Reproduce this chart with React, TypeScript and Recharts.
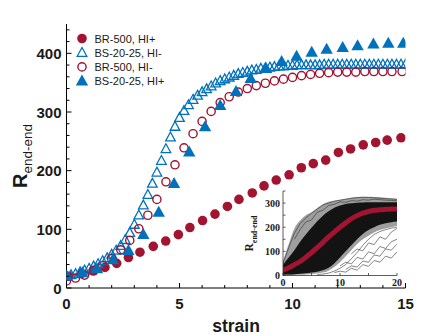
import React from 'react';
import { ScatterChart, Scatter, XAxis, YAxis, ComposedChart, Area, Line, Legend, Label } from 'recharts';

const RED = '#A2142F';
const BLUE = '#0072BD';

// ---- main chart data ----
const brHiPlusX = [0.1, 0.67, 1.19, 1.7, 2.22, 2.74, 3.25, 3.84, 4.39, 4.95, 5.46, 6.02, 6.57, 7.12, 7.63, 8.22, 8.74, 9.28, 9.85, 10.39, 10.92, 11.47, 12.03, 12.57, 13.13, 13.68, 14.19, 14.8];
const brHiPlusY = [20, 25, 29, 35, 42, 52, 61, 71, 80, 91, 103, 115, 126, 139, 151, 162, 174, 184, 193, 205, 212, 218, 231, 237, 244, 248, 252, 256];

const bsHiMinusX = [0, 0.2, 0.4, 0.6, 0.8, 1.0, 1.2, 1.4, 1.6, 1.8, 2.0, 2.2, 2.4, 2.6, 2.8, 3.0, 3.2, 3.4, 3.6, 3.8, 4.0, 4.2, 4.4, 4.6, 4.8, 5.0, 5.2, 5.4, 5.6, 5.8, 6.0, 6.2, 6.4, 6.6, 6.8, 7.0, 7.2, 7.4, 7.6, 7.8, 8.0, 8.2, 8.4, 8.6, 8.8, 9.0, 9.2, 9.4, 9.6, 9.8, 10.0, 10.2, 10.4, 10.6, 10.8, 11.0, 11.2, 11.4, 11.6, 11.8, 12.0, 12.2, 12.4, 12.6, 12.8, 13.0, 13.2, 13.4, 13.6, 13.8, 14.0, 14.2, 14.4, 14.6, 14.8, 15.0];
const bsHiMinusY = [20, 22, 24, 27, 30, 33, 37, 41, 46, 51, 57, 64, 72, 82, 94, 108, 124, 141, 159, 178, 197, 217, 237, 257, 275, 290, 302, 312, 321, 328, 334, 339, 344, 349, 353, 356, 359, 362, 365, 367, 369, 371, 372, 374, 375, 376, 377, 378, 378, 379, 379, 380, 380, 380, 380, 380, 380, 381, 381, 381, 381, 381, 381, 381, 381, 381, 381, 381, 381, 381, 381, 381, 381, 381, 381, 381];

const brHiMinusX = [0.0, 0.4, 0.8, 1.2, 1.6, 2.0, 2.4, 2.8, 3.2, 3.6, 4.0, 4.4, 4.8, 5.2, 5.6, 6.0, 6.4, 6.8, 7.2, 7.6, 8.0, 8.4, 8.8, 9.2, 9.6, 10.0, 10.4, 10.8, 11.2, 11.6, 12.0, 12.4, 12.8, 13.2, 13.6, 14.0, 14.4, 14.85];
const brHiMinusY = [12, 17, 22, 30, 38, 50, 65, 81, 101, 124, 151, 181, 210, 239, 263, 284, 301, 316, 326, 334, 340, 345, 349, 353, 356, 359, 362, 364, 366, 367, 368, 368, 368, 369, 369, 369, 369, 369];

const bsHiPlusX = [0.0, 0.7, 1.35, 2.05, 2.74, 3.4, 4.08, 4.76, 5.43, 6.13, 6.8, 7.5, 8.15, 8.83, 9.52, 10.18, 10.85, 11.51, 12.22, 12.88, 13.58, 14.24, 14.9];
const bsHiPlusY = [21, 26, 33, 48, 64, 91, 129, 178, 232, 275, 311, 335, 357, 374, 386, 395, 402, 407, 410, 413, 416, 417, 417];

const xTicks = [0, 1, 2, 3, 4, 5, 6, 7, 8, 9, 10, 11, 12, 13, 14, 15];
const yTicks = [0, 20, 40, 60, 80, 100, 120, 140, 160, 180, 200, 220, 240, 260, 280, 300, 320, 340, 360, 380, 400, 420, 440];
const xMajor = [0, 5, 10, 15];
const yMajor = [0, 100, 200, 300, 400];

const seriesNames = ['BR-500, HI+', 'BS-20-25, HI-', 'BR-500, HI-', 'BS-20-25, HI+'];

// ---- inset data ----
const inX = [0, 1, 2, 3, 4, 5, 6, 7, 8, 9, 10, 11, 12, 13, 14, 15, 16, 17, 18, 19, 20];
const inOuterHi = [60, 130, 195, 228, 250, 262, 280, 295, 305, 310, 314, 318, 322, 325, 326, 326, 325, 324, 322, 320, 318];
const inOuterLo = [0, 1, 2, 3, 4, 6, 8, 12, 20, 35, 55, 80, 105, 130, 150, 165, 178, 188, 195, 200, 205];
const inDenseHi = [45, 75, 105, 140, 170, 198, 225, 248, 266, 281, 290, 296, 299, 301, 302, 303, 303, 303, 303, 303, 303];
const inDenseLo = [3, 4, 5, 7, 9, 12, 16, 22, 32, 50, 75, 100, 125, 150, 172, 188, 200, 210, 216, 221, 224];
const inMean = [22, 32, 45, 58, 75, 95, 115, 137, 160, 180, 200, 218, 235, 248, 258, 265, 270, 272, 274, 275, 276];
const inU1 = [50, 115, 175, 215, 238, 258, 275, 292, 300, 308, 312, 316, 320, 322, 324, 323, 322, 320, 318, 317, 315];
const inU2 = [null, null, 150, 190, 222, 230, 262, 270, 290, 295, 305, 303, 310, 308, 314, 312, 316, 314, 312, 311, 310];
const inL1 = [null, null, null, null, null, null, 4, 6, 10, 18, 30, 45, 70, 95, 125, 150, 170, 182, 190, 196, 200];
const inL2 = [null, null, null, null, null, null, null, null, null, null, null, 25, 40, 35, 60, 55, 85, 80, 110, 105, 130];
const inS1 = [null, null, null, null, null, null, null, null, null, 12, 18, 14, 30, 22, 45, 38, 62, 55, 80, 72, 98];
const inS2 = [null, null, null, null, null, null, null, null, null, null, 40, 55, 48, 75, 68, 98, 90, 120, 112, 140, 150];
const inS3 = [null, null, null, null, null, null, null, null, null, null, null, null, 90, 110, 102, 135, 128, 160, 150, 180, 195];
const inXTicks = [0, 5, 10, 15, 20];
const inXLabels = [0, 10, 20];
const inYTicks = [0, 50, 100, 150, 200, 250, 300, 350];
const inYLabels = [0, 100, 200, 300];

const zip = (xs: number[], ys: number[]) => xs.map((x, i) => ({ x, y: ys[i] }));
const dBRp = zip(brHiPlusX, brHiPlusY);
const dBSm = zip(bsHiMinusX, bsHiMinusY);
const dBRm = zip(brHiMinusX, brHiMinusY);
const dBSp = zip(bsHiPlusX, bsHiPlusY);
const insetData = inX.map((x, i) => ({
  x,
  oLo: inOuterLo[i], oHi: inOuterHi[i], dLo: inDenseLo[i], dHi: inDenseHi[i],
  m: inMean[i], u1: inU1[i], u2: inU2[i], l1: inL1[i], l2: inL2[i],
  s1: inS1[i], s2: inS2[i], s3: inS3[i],
}));
const thinKeys = ['u1', 'u2', 'l1', 'l2', 's1', 's2', 's3'];

const SANS = 'Liberation Sans, Arial, Helvetica, sans-serif';
const SERIF = 'Liberation Serif, Times New Roman, serif';
const TXT = '#1a1a1a';

// ---- marker shapes ----
const FilledCircle = (p: any) => <circle cx={p.cx} cy={p.cy} r={4.8} fill={RED} />;
const OpenCircle = (p: any) => <circle cx={p.cx} cy={p.cy} r={4.1} fill="none" stroke={RED} strokeWidth={1.4} />;
const OpenTri = (p: any) => (
  <polygon points={`${p.cx},${p.cy - 5.2} ${p.cx - 4.8},${p.cy + 3.6} ${p.cx + 4.8},${p.cy + 3.6}`} fill="none" stroke={BLUE} strokeWidth={1.3} />
);
const FilledTri = (p: any) => (
  <polygon points={`${p.cx},${p.cy - 6.5} ${p.cx - 6.2},${p.cy + 4.5} ${p.cx + 6.2},${p.cy + 4.5}`} fill={BLUE} />
);

// ---- main ticks ----
const BottomTick = (p: any) => {
  const v = p.payload.value;
  const major = xMajor.includes(v);
  return (
    <g>
      <line x1={p.x} x2={p.x} y1={p.y} y2={p.y - (major ? 5 : 3)} stroke="#000" />
      {major && (
        <text x={p.x} y={p.y + 21} textAnchor="middle" fontSize={15} fontWeight="bold" fill={TXT} fontFamily={SANS}>{v}</text>
      )}
    </g>
  );
};
const TopTick = (p: any) => {
  const v = p.payload.value;
  const major = xMajor.includes(v);
  return <line x1={p.x} x2={p.x} y1={p.y} y2={p.y + (major ? 5 : 3)} stroke="#000" />;
};
const LeftTick = (p: any) => {
  const v = p.payload.value;
  const major = yMajor.includes(v);
  return (
    <g>
      <line x1={p.x} x2={p.x + (major ? 5 : 3)} y1={p.y} y2={p.y} stroke="#000" />
      {major && (
        <text x={p.x - 5} y={p.y + 5.5} textAnchor="end" fontSize={15} fontWeight="bold" fill={TXT} fontFamily={SANS}>{v}</text>
      )}
    </g>
  );
};
const RightTick = (p: any) => {
  const v = p.payload.value;
  const major = yMajor.includes(v);
  return <line x1={p.x} x2={p.x - (major ? 5 : 3)} y1={p.y} y2={p.y} stroke="#000" />;
};

// ---- inset ticks ----
const InBottomTick = (p: any) => {
  const v = p.payload.value;
  return (
    <g>
      <line x1={p.x} x2={p.x} y1={p.y} y2={p.y - 2.5} stroke="#333" strokeWidth={0.8} />
      {inXLabels.includes(v) && (
        <text x={p.x} y={p.y + 10} textAnchor="middle" fontSize={10} fontWeight="bold" fill={TXT} fontFamily={SERIF}>{v}</text>
      )}
    </g>
  );
};
const InTopTick = (p: any) => <line x1={p.x} x2={p.x} y1={p.y} y2={p.y + 2.5} stroke="#333" strokeWidth={0.8} />;
const InLeftTick = (p: any) => {
  const v = p.payload.value;
  return (
    <g>
      <line x1={p.x} x2={p.x + 2.5} y1={p.y} y2={p.y} stroke="#333" strokeWidth={0.8} />
      {inYLabels.includes(v) && (
        <text x={p.x - 3} y={p.y + 3.5} textAnchor="end" fontSize={10} fontWeight="bold" fill={TXT} fontFamily={SERIF}>{v}</text>
      )}
    </g>
  );
};
const InRightTick = (p: any) => <line x1={p.x} x2={p.x - 2.5} y1={p.y} y2={p.y} stroke="#333" strokeWidth={0.8} />;

const legendShapes = [
  (cx: number, cy: number) => <circle cx={cx} cy={cy} r={4.8} fill={RED} />,
  (cx: number, cy: number) => <polygon points={`${cx},${cy - 5.2} ${cx - 4.8},${cy + 3.6} ${cx + 4.8},${cy + 3.6}`} fill="none" stroke={BLUE} strokeWidth={1.3} />,
  (cx: number, cy: number) => <circle cx={cx} cy={cy} r={4.1} fill="none" stroke={RED} strokeWidth={1.4} />,
  (cx: number, cy: number) => <polygon points={`${cx},${cy - 6.5} ${cx - 6.2},${cy + 4.5} ${cx + 6.2},${cy + 4.5}`} fill={BLUE} />,
];

const LegendContent = () => (
  <svg width={110} height={62} style={{ display: 'block' }}>
    {seriesNames.map((n, i) => {
      const cy = 8.5 + 14.2 * i;
      return (
        <g key={n}>
          {legendShapes[i](12, cy)}
          <text x={24.5} y={cy + 4} fontSize={11} fill={TXT} fontFamily={SANS}>{n}</text>
        </g>
      );
    })}
  </svg>
);

export default function App() {
  return (
    <div style={{ position: 'fixed', left: 0, top: 0, width: 448, height: 335, background: '#fff', fontFamily: SANS }}>
      <ScatterChart width={448} height={335} margin={{ top: 24, right: 42.5, bottom: 0, left: 0 }}>
        <XAxis xAxisId="b" type="number" dataKey="x" domain={[0, 15]} ticks={xTicks} interval={0} height={47}
          tickSize={0} tickMargin={0} tickLine={false} tick={BottomTick} axisLine={{ stroke: '#000', strokeWidth: 1 }} allowDataOverflow>
          <Label content={(lp: any) => {
            const vb = lp.viewBox;
            return <text x={vb.x + vb.width / 2} y={vb.y + 44} textAnchor="middle" fontSize={17.5} fontWeight="bold" fill={TXT} fontFamily={SANS}>strain</text>;
          }} />
        </XAxis>
        <XAxis xAxisId="t" orientation="top" type="number" domain={[0, 15]} ticks={xTicks} interval={0} height={0}
          tickSize={0} tickMargin={0} tickLine={false} tick={TopTick} axisLine={{ stroke: '#000', strokeWidth: 1 }} allowDataOverflow />
        <YAxis yAxisId="l" type="number" dataKey="y" domain={[0, 450]} ticks={yTicks} interval={0} width={66.5}
          tickSize={0} tickMargin={0} tickLine={false} tick={LeftTick} axisLine={{ stroke: '#000', strokeWidth: 1 }} allowDataOverflow>
          <Label content={() => (
            <text transform="rotate(-90, 27, 156)" x={27} y={156} textAnchor="middle" fill={TXT} fontFamily={SANS}>
              <tspan fontSize={20} fontWeight="bold">R</tspan>
              <tspan fontSize={13.5} dy={5}>end-end</tspan>
            </text>
          )} />
        </YAxis>
        <YAxis yAxisId="r" orientation="right" type="number" domain={[0, 450]} ticks={yTicks} interval={0} width={0}
          tickSize={0} tickMargin={0} tickLine={false} tick={RightTick} axisLine={{ stroke: '#000', strokeWidth: 1 }} allowDataOverflow />
        <Scatter name={seriesNames[0]} xAxisId="b" yAxisId="l" data={dBRp} shape={FilledCircle} isAnimationActive={false} />
        <Scatter name={seriesNames[1]} xAxisId="b" yAxisId="l" data={dBSm} shape={OpenTri} isAnimationActive={false} />
        <Scatter name={seriesNames[2]} xAxisId="b" yAxisId="l" data={dBRm} shape={OpenCircle} isAnimationActive={false} />
        <Scatter name={seriesNames[3]} xAxisId="b" yAxisId="l" data={dBSp} shape={FilledTri} isAnimationActive={false} />
        <Legend layout="vertical" align="center" verticalAlign="middle" content={LegendContent}
          wrapperStyle={{ left: 70, top: 30, width: 110, height: 62 }} />
      </ScatterChart>

      <div style={{ position: 'absolute', left: 240, top: 185, width: 165, height: 105 }}>
        <ComposedChart width={165} height={105} data={insetData} margin={{ top: 6, right: 8, bottom: 0, left: 0 }}>
          <XAxis xAxisId="b" type="number" dataKey="x" domain={[0, 20]} ticks={inXTicks} interval={0} height={14.5}
            tickSize={0} tickMargin={0} tickLine={false} tick={InBottomTick} axisLine={{ stroke: '#333', strokeWidth: 0.8 }} allowDataOverflow />
          <XAxis xAxisId="t" orientation="top" type="number" domain={[0, 20]} ticks={inXTicks} interval={0} height={0}
            tickSize={0} tickMargin={0} tickLine={false} tick={InTopTick} axisLine={{ stroke: '#333', strokeWidth: 0.8 }} allowDataOverflow />
          <YAxis yAxisId="l" type="number" domain={[0, 350]} ticks={inYTicks} interval={0} width={43}
            tickSize={0} tickMargin={0} tickLine={false} tick={InLeftTick} axisLine={{ stroke: '#333', strokeWidth: 0.8 }} allowDataOverflow>
            <Label content={() => (
              <text transform="rotate(-90, 13, 48.5)" x={13} y={48.5} textAnchor="middle" fill={TXT} fontFamily={SERIF}>
                <tspan fontSize={11.5} fontWeight="bold">R</tspan>
                <tspan fontSize={8} fontWeight="bold" dy={4}>end-end</tspan>
              </text>
            )} />
          </YAxis>
          <YAxis yAxisId="r" orientation="right" type="number" domain={[0, 350]} ticks={inYTicks} interval={0} width={0}
            tickSize={0} tickMargin={0} tickLine={false} tick={InRightTick} axisLine={{ stroke: '#333', strokeWidth: 0.8 }} allowDataOverflow />
          <Area xAxisId="b" yAxisId="l" type="monotone" dataKey={(d: any) => [d.oLo, d.oHi]} stroke="none" fill="#000" fillOpacity={0.38} isAnimationActive={false} />
          <Area xAxisId="b" yAxisId="l" type="monotone" dataKey={(d: any) => [d.dLo, d.dHi]} stroke="none" fill="#000" fillOpacity={0.88} isAnimationActive={false} />
          {thinKeys.map((k) => (
            <Line key={k} xAxisId="b" yAxisId="l" type="linear" dataKey={k} stroke="#333" strokeWidth={0.6} dot={false} isAnimationActive={false} />
          ))}
          <Line xAxisId="b" yAxisId="l" type="monotone" dataKey="m" stroke={RED} strokeWidth={5} dot={false} isAnimationActive={false} />
        </ComposedChart>
      </div>
    </div>
  );
}
